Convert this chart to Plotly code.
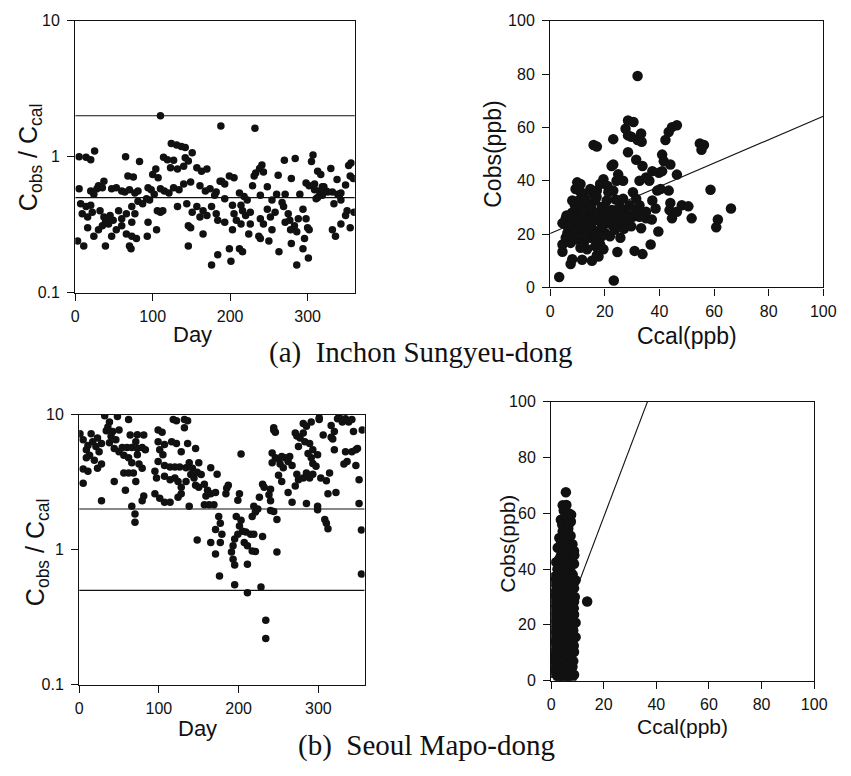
import plotly.graph_objects as go

# ---------------------------------------------------------------
# (a) Inchon Sungyeu-dong : daily ratio Cobs/Ccal
# ---------------------------------------------------------------
inchon_day = [
    110, 188, 124, 131, 137, 142, 151,
    5, 14, 20, 25, 65, 83,
    114, 119, 127, 142, 146,
    123, 132, 140, 157, 163, 170,
    104, 100, 107, 68, 75, 37, 30,
    5, 20, 24, 28, 35,
    47, 53, 60, 64, 70, 77, 81,
    94, 98, 102, 110, 115, 121, 127, 134,
    140, 149, 161, 168, 174, 182, 187,
    7, 14, 20, 9, 16, 22,
    32, 37, 41, 45, 49, 43, 39, 35,
    56, 60, 66, 73, 77, 73,
    81, 87, 96, 92,
    110, 94, 105, 93,
    16, 24, 30, 47, 53, 60, 66, 73, 79,
    3, 11, 39, 70, 72,
    132, 144, 151, 157, 161, 165, 170, 176, 182, 184, 146, 149, 165,
    146, 184, 176, 106, 113,
    232, 270, 284, 307, 305, 356, 353,
    241, 238, 233, 231, 262, 279, 313, 317, 330, 338, 349, 355, 359,
    199, 205, 189, 193, 229, 248, 298, 309, 319, 324, 332, 343,
    180, 193, 212, 218, 222, 239, 260, 271, 290, 311, 319, 334, 343, 351, 360,
    193, 203, 205, 214, 216, 220, 226, 214, 208, 203, 226, 224,
    239, 248, 252, 243, 258, 254, 237, 239,
    269, 275, 271, 277, 283, 288, 286, 278, 294, 298, 300, 302,
    296, 294, 301, 286,
    279, 263, 250, 332, 336, 343, 349, 355,
    199, 212, 216, 201,
    309, 315, 321, 326, 339, 341,
    302, 313, 243, 254, 267,
]
inchon_ratio = [
    2.0, 1.68, 1.25, 1.22, 1.19, 1.17, 1.07,
    1.0, 0.99, 0.95, 1.1, 1.0, 0.92,
    0.99, 0.95, 0.94, 0.98, 0.93,
    0.83, 0.81, 0.85, 0.83, 0.78, 0.81,
    0.81, 0.74, 0.70, 0.72, 0.71, 0.66, 0.61,
    0.58, 0.56, 0.53, 0.58, 0.59,
    0.58, 0.59, 0.56, 0.55, 0.57, 0.54, 0.56,
    0.59, 0.57, 0.53, 0.58, 0.56, 0.54, 0.59, 0.57,
    0.63, 0.65, 0.61, 0.56, 0.58, 0.55, 0.66,
    0.45, 0.43, 0.44, 0.38, 0.36, 0.39,
    0.40, 0.36, 0.35, 0.37, 0.34, 0.32, 0.33, 0.31,
    0.40, 0.35, 0.38, 0.43, 0.38, 0.33,
    0.47, 0.45, 0.48, 0.49,
    0.39, 0.33, 0.29, 0.26,
    0.30, 0.26, 0.29, 0.26, 0.29, 0.31, 0.27, 0.26, 0.25,
    0.24, 0.22, 0.22, 0.22, 0.21,
    0.43, 0.45, 0.39, 0.43, 0.36, 0.40, 0.37, 0.43, 0.38, 0.34, 0.31, 0.30, 0.27,
    0.22, 0.19, 0.16, 0.40, 0.40,
    1.62, 0.94, 0.97, 1.03, 0.92, 0.90, 0.86,
    0.87, 0.82, 0.76, 0.72, 0.73, 0.69, 0.78, 0.74, 0.82, 0.68, 0.62, 0.72, 0.69,
    0.72, 0.70, 0.66, 0.63, 0.61, 0.60, 0.64, 0.63, 0.60, 0.56, 0.55, 0.54,
    0.52, 0.49, 0.54, 0.51, 0.48, 0.52, 0.53, 0.53, 0.53, 0.49, 0.52, 0.45, 0.48, 0.40, 0.39,
    0.33, 0.44, 0.38, 0.44, 0.40, 0.37, 0.39, 0.32, 0.34, 0.29, 0.32, 0.27,
    0.35, 0.41, 0.36, 0.32, 0.39, 0.29, 0.26, 0.25,
    0.43, 0.38, 0.33, 0.34, 0.31, 0.35, 0.28, 0.29, 0.41, 0.35, 0.30, 0.29,
    0.25, 0.21, 0.18, 0.16,
    0.23, 0.20, 0.24, 0.29, 0.26, 0.32, 0.37, 0.30,
    0.21, 0.21, 0.20, 0.17,
    0.57, 0.56, 0.60, 0.55, 0.53, 0.52,
    0.61, 0.50, 0.77, 0.48, 0.46,
]

# (a) observed vs calculated concentration (ppb)
inchon_ccal = [
    32, 28.5, 30.5, 27.6, 28.5, 33.3, 32, 33.5, 29.7, 23.1, 15.9, 17.1,
    44.6, 46.4, 43.4, 42.2, 54.8, 56.3, 55.4, 28.5, 41, 31.5, 41.6, 33.8, 44, 23.1, 46.4, 39.8, 41,
    58.7, 66.2, 61.4, 60.8, 51.8, 48.2, 50.6, 44, 43.7, 44.6, 46.4, 40.4, 43.4, 39.2, 37.4, 38.6,
    39.6, 36.8, 33.8, 30.9, 33.3, 29.7, 35.1, 32.7,
    36.3, 32.7, 35.1, 30.3, 31.5, 29.1, 27.3, 25.5, 27.9, 24.3, 26.7, 24.9, 22.5, 23.1, 21.3, 19.5,
    18.3, 17.1, 14.7, 11.1, 9.9, 9.3, 12.3, 16.5, 8.1, 10.5, 13.5, 20.7, 18.9, 22.5, 24.3, 26.1,
    5.7, 4.5, 6.3, 8.1, 9.9, 11.1, 12.9, 14.7, 17.1, 19.5, 21.3, 23.1, 6.3, 8.7, 10.5, 12.3, 14.1,
    15.9, 18.3, 20.1, 21.9, 23.7,
    8.1, 9.9, 12.3, 14.7, 17.1, 18.9, 4.5, 5.7, 11.1, 16.5, 18.3, 19.5, 4.5, 8.1, 7.5, 11.7, 15.3,
    17.1, 17.7, 24.6, 25.7, 3.3, 23.3,
    7.5, 13.5, 9.3, 18.3, 31.5, 32.7, 26.7, 37.4, 30.3, 37.2, 35.1, 28.5, 21.9, 27.3, 11.1, 15.9,
    7, 9, 11, 13, 15, 17, 19, 7, 10, 14, 16, 20, 12, 6, 8, 22, 25, 27, 26, 24, 29, 13, 17, 21,
    11, 20, 9, 15,
]
inchon_cobs = [
    79.3, 62.6, 62, 59.5, 57, 57.7, 55.3, 54.6, 56.5, 55.6, 53.4, 52.8,
    60.1, 60.8, 58.3, 55.3, 54, 53.4, 51.6, 50.7, 49.8, 47.9, 47.3, 45.5, 46.1, 46.1, 42.3, 43, 43.6,
    36.6, 29.6, 25.5, 22.6, 25.9, 30.8, 30.4, 31.7, 29, 25.9, 28.4, 36.9, 36.3, 36.3, 32.6, 29.6,
    21, 16.1, 12.5, 13.7, 22.2, 22.9, 25.9, 26.5,
    40, 40, 41.2, 35.7, 33.3, 30.8, 29, 30.2, 27.8, 40, 40, 42.4, 45.5, 36.3, 35.7, 40.6,
    38.8, 36.3, 36.9, 38.8, 39.4, 36.9, 35.1, 32.6, 32.6, 32.6, 31.4, 32.6, 30.2, 29, 26.5, 25.3,
    25.9, 24.1, 22.9, 25.3, 27.1, 24.1, 25.3, 26.5, 25.3, 25.9, 24.1, 22.9, 20.4, 21.6, 21.6, 21, 22.2,
    21, 21.6, 20.4, 19.2, 21.6,
    18.6, 18, 16.7, 18.6, 18, 19.2, 16.1, 18.6, 14.9, 15.5, 16.1, 14.3, 13.4, 10.6, 8.8, 10.4, 10,
    12.1, 11.6, 13.3, 18.6, 3.9, 2.6,
    16.7, 14.3, 22.9, 28.4, 29, 30.8, 33.3, 43.6, 26.5, 25.5, 28.4, 24.1, 26.5, 25.3, 29, 35.1,
    23, 20, 23, 19.5, 23.5, 20, 23, 19, 25, 27.5, 28, 27.5, 28, 27, 28, 25, 23, 22, 28, 33, 27, 33, 34, 38,
    36, 30, 31, 30,
]
inchon_fit = (20.2, 0.44)          # intercept, slope

# ---------------------------------------------------------------
# (b) Seoul Mapo-dong : daily ratio Cobs/Ccal
# ---------------------------------------------------------------
mapo_day = [
    32, 48, 62, 38, 36, 34, 42, 50, 40, 46,
    1, 15, 5, 11, 17, 23, 28, 9, 21, 13, 19, 25, 9, 5, 11, 23, 28, 5, 28,
    38, 44, 50, 56, 62, 54, 60, 66, 73, 79, 83, 64, 73, 81, 71, 73, 66, 75, 79, 56, 62, 68, 44, 58,
    71, 81, 79,
    66, 70, 70,
    99, 104, 118, 122, 132, 136, 132, 99, 107, 116, 122, 128, 136, 146, 101, 105, 99, 107, 114, 120,
    126, 134, 138, 142, 150,
    95, 97, 107, 114, 120, 124, 128, 134, 140, 144, 148, 153, 146, 150, 157, 165, 161, 159, 165, 171, 173,
    95, 101, 107, 114, 124, 128, 138, 157, 163, 169,
    175, 177, 171, 179, 148, 165, 171, 177, 176,
    185, 187, 184, 201, 199, 203,
    197, 203, 201, 205, 199, 195, 209, 215, 219, 230, 207, 211, 217, 221, 193, 191, 193, 195, 211,
    195, 211, 228, 234, 234, 248,
    219, 221, 217, 224, 226, 230, 232, 240, 240, 244, 248, 240, 238,
    244, 246, 242, 242, 246, 250, 254, 258, 262, 252, 256, 264, 267, 250, 254, 262, 273, 275, 271,
    267, 285, 281, 285, 289, 293,
    299, 299, 308, 310, 312, 312, 322, 310, 303, 314, 293, 297, 291, 287, 275, 277, 271, 273, 281,
    285, 283, 289, 293, 299,
    281, 291, 301, 306, 316, 320, 318, 320, 316, 324, 330, 338, 342, 344, 355, 334, 336, 332, 342,
    347, 349, 347, 351, 351, 354, 354, 244,
    301, 326, 334,
]
mapo_ratio = [
    9.8, 9.7, 9.2, 8.8, 8.1, 7.6, 7.5, 7.7, 6.9, 6.5,
    7.2, 7.2, 6.5, 5.9, 6.3, 6.7, 6.1, 5.5, 5.8, 5.0, 4.6, 5.3, 4.8, 3.95, 3.8, 4.0, 4.3, 3.1, 2.3,
    6.2, 5.6, 5.3, 5.0, 4.8, 5.7, 5.7, 5.7, 5.6, 5.7, 5.5, 7.05, 7.1, 7.05, 6.3, 5.05, 4.4, 4.3, 4.0,
    3.7, 3.7, 3.7, 3.2, 2.75,
    3.2, 2.5, 2.3,
    2.1, 1.84, 1.6,
    7.7, 7.4, 9.2, 9.0, 9.2, 9.0, 8.0, 6.3, 6.0, 6.3, 6.1, 5.3, 6.1, 5.6, 5.5, 5.05, 4.5, 4.2, 4.1, 4.1,
    4.1, 4.04, 4.4, 4.0, 4.4,
    3.8, 3.4, 3.5, 3.3, 3.4, 3.2, 2.9, 3.2, 3.6, 3.4, 3.75, 3.6, 3.0, 2.9, 3.05, 4.04, 2.75, 2.5, 2.6, 2.65, 3.62,
    2.59, 2.4, 2.25, 2.25, 2.45, 2.6, 2.1, 2.15, 2.15, 2.15,
    1.76, 1.57, 1.41, 1.3, 1.18, 1.13, 0.93, 1.13, 0.64,
    2.85, 3.0, 2.6, 2.6, 2.32, 5.1,
    1.76, 1.65, 1.5, 1.37, 1.3, 1.2, 1.35, 1.3, 1.3, 1.25, 1.13, 1.07, 0.98, 0.97, 1.07, 0.96, 0.85, 0.77, 0.78,
    0.55, 0.48, 0.53, 0.30, 0.22, 0.96,
    2.1, 1.9, 1.76, 2.0, 2.45, 3.05, 2.9, 2.8, 2.3, 1.92, 1.67, 1.95, 2.55,
    8.0, 7.4, 5.2, 4.4, 4.8, 4.7, 4.9, 4.8, 4.5, 4.3, 4.04, 4.9, 4.2, 3.55, 3.2, 2.65, 3.62, 3.3, 2.96,
    2.25, 2.2, 3.4, 3.7, 3.4, 3.62,
    2.1, 1.98, 1.67, 1.57, 1.43, 2.59, 2.65, 3.24, 3.4, 3.7, 4.35, 4.15, 4.8, 5.15, 5.8, 6.7, 7.3, 6.95, 7.3,
    8.2, 6.3, 6.1, 5.5, 5.05,
    8.6, 8.8, 9.2, 7.05, 8.3, 7.5, 6.6, 5.5, 6.8, 9.3, 8.8, 8.8, 9.2, 7.5, 7.7, 5.3, 4.5, 4.3, 5.3,
    5.5, 5.6, 4.2, 3.3, 2.2, 1.4, 0.66, 7.7,
    9.5, 9.6, 9.3,
]

# (b) observed vs calculated concentration (ppb)
mapo_ccal = [
    5.6, 4.4, 6.8, 6.2, 3.7, 5, 7.5, 4.4, 6.2, 3.1, 6.8, 8.1, 5, 2.5, 8.7, 5.6, 3.7, 7.5, 1.9, 6.2,
    8.7, 4.4, 3.1, 7.5, 1.3, 5.6, 9.3, 0.6, 3.7, 6.8, 8.7, 1.9, 5, 7.5, 3.1, 0.6, 5.6, 8.7, 1.9, 4.4,
    6.8, 2.5, 5.6, 8.7, 1.3, 3.7, 6.8, 9.3, 2.5, 5, 8.1, 0.6, 3.7, 6.2, 9.3, 1.9, 5, 7.5, 0, 3.1,
    5.6, 8.7, 1.3, 4.4, 6.8, 0, 2.5, 5.6, 8.1, 1.3, 3.7, 6.2, 8.7, 2.5, 5, 13.7,
    4.8, 5.5, 4.2, 6.5, 5.2, 3.8, 6.0, 7.2, 4.6, 3.0, 5.4, 7.0, 2.4, 5.8, 4.0, 6.4, 2.6, 8.0, 4.8, 2.8,
    6.0, 4.0, 7.0, 1.2, 2.4, 4.6, 6.4, 7.8, 3.4, 5.2, 1.0, 7.6, 4.0, 6.0, 2.6, 5.0, 7.8, 1.8, 3.6, 6.2,
    4.4, 2.0, 7.4, 5.4, 3.0, 8.2, 6.4, 1.0, 4.2, 2.6, 6.6, 8.6, 1.8, 4.8, 7.4, 3.4, 0.8, 5.8, 2.2, 8.4,
    4.0, 6.8, 1.4, 3.2, 5.0, 7.4, 0.4, 2.2, 4.4, 6.6, 3.6, 7.8, 8.4, 8.6, 9.0, 8.2, 8.8, 7.4, 6.6, 5.8,
    7.6,
]
mapo_cobs = [
    67.6, 62.9, 60, 58.2, 57.7, 55.9, 57.1, 53.6, 51.8, 51.2, 50.1, 48.9, 48.3, 47.7, 46.5, 46, 44.8,
    44.2, 42.5, 42.5, 41.9, 40.7, 38.9, 38.9, 37.2, 37.2, 36, 35.4, 34.9, 34.3, 33.1, 32.5, 31.9, 30.8,
    30.2, 29.6, 29, 28.4, 27.3, 26.7, 26.1, 24.9, 24.3, 23.7, 22.6, 22, 21.4, 20.8, 19.6, 19.1, 18.5,
    17.9, 16.7, 16.1, 15.6, 14.4, 13.8, 13.2, 12.6, 11.5, 10.9, 10.3, 9.1, 8.5, 8, 7.4, 6.2, 5.6, 5,
    3.9, 3.3, 2.7, 2.1, 1.5, 0.9, 28.4,
    61, 59, 56, 54.5, 52, 49.5, 47.5, 46.5, 45.5, 43.5, 43, 41, 40, 39.5, 38, 36.5, 36, 35.5, 34.5,
    33.5, 32.8, 32, 31.5, 31, 29, 28, 28.8, 27, 27.5, 26, 25.5, 24.5, 24, 23, 22.5, 21.5, 21, 20.5,
    19.8, 19.5, 18.5, 17.5, 17, 16.5, 15.5, 14.5, 14, 14.5, 13, 12.2, 11.8, 12.5, 10.5, 10, 9.4, 9.5,
    8.2, 7.6, 7.4, 7, 6.5, 5.8, 5.4, 4.6, 4, 3.6, 2.8, 2.6, 2, 1.6, 0.8, 0.9, 18, 26, 30, 38, 45, 52,
    56, 63, 59.5,
]
mapo_fit = (8.9, 2.49)             # intercept, slope

FACTOR_BAND = [0.5, 2.0]           # factor-of-two agreement lines
DAY_MAX_A, DAY_MAX_B = 361, 358

INK = "#111111"
SANS = "Liberation Sans, Arial, Helvetica, sans-serif"
SERIF = "Liberation Serif, Times New Roman, serif"
W, H = 851, 776


def xdom(a, b):
    return [a / W, b / W]


def ydom(top, bottom):
    return [1 - bottom / H, 1 - top / H]


fig = go.Figure()

dot_small = dict(color=INK, size=7.5, line=dict(width=0))
dot_big = dict(color=INK, size=10.5, line=dict(width=0))
ref_line = dict(color=INK, width=1.1)

# panel (a) daily ratio
for lvl in FACTOR_BAND:
    fig.add_trace(go.Scatter(x=[0, DAY_MAX_A], y=[lvl, lvl], mode="lines",
                             line=ref_line, xaxis="x", yaxis="y", hoverinfo="skip"))
fig.add_trace(go.Scatter(x=inchon_day, y=inchon_ratio, mode="markers",
                         marker=dot_small, xaxis="x", yaxis="y"))

# panel (a) scatter with regression line
b0, b1 = inchon_fit
fig.add_trace(go.Scatter(x=[0, 100], y=[b0, b0 + b1 * 100], mode="lines",
                         line=ref_line, xaxis="x2", yaxis="y2", hoverinfo="skip"))
fig.add_trace(go.Scatter(x=inchon_ccal, y=inchon_cobs, mode="markers",
                         marker=dot_big, xaxis="x2", yaxis="y2"))

# panel (b) daily ratio
for lvl in FACTOR_BAND:
    fig.add_trace(go.Scatter(x=[0, DAY_MAX_B], y=[lvl, lvl], mode="lines",
                             line=ref_line, xaxis="x3", yaxis="y3", hoverinfo="skip"))
fig.add_trace(go.Scatter(x=mapo_day, y=mapo_ratio, mode="markers",
                         marker=dot_small, xaxis="x3", yaxis="y3"))

# panel (b) scatter with regression line
b0, b1 = mapo_fit
fig.add_trace(go.Scatter(x=[0, 100], y=[b0, b0 + b1 * 100], mode="lines",
                         line=ref_line, xaxis="x4", yaxis="y4", hoverinfo="skip"))
fig.add_trace(go.Scatter(x=mapo_ccal, y=mapo_cobs, mode="markers",
                         marker=dot_big, xaxis="x4", yaxis="y4"))

axis_style = dict(
    showline=True, linecolor=INK, linewidth=1.3, mirror=True,
    ticks="outside", ticklen=7, tickwidth=1.2, tickcolor=INK,
    showgrid=False, zeroline=False,
    tickfont=dict(family=SANS, size=16, color=INK),
)
y_extra = dict(ticklabelstandoff=4)
x_extra = dict(ticklabelstandoff=2)

log_ticks = dict(type="log", range=[-1, 1], tickvals=[0.1, 1, 10],
                 ticktext=["0.1", "1", "10"])
lin_ticks = dict(range=[0, 100], tickvals=[0, 20, 40, 60, 80, 100])
day_ticks = dict(tickvals=[0, 100, 200, 300])

fig.update_layout(
    width=W, height=H,
    margin=dict(l=0, r=0, t=0, b=0),
    paper_bgcolor="white", plot_bgcolor="white",
    showlegend=False,
    xaxis=dict(domain=xdom(72.7, 358), range=[0, DAY_MAX_A], anchor="y",
               **day_ticks, **axis_style, **x_extra),
    yaxis=dict(domain=ydom(13, 291), anchor="x", **log_ticks, **axis_style, **y_extra),
    xaxis2=dict(domain=xdom(557.3, 836), anchor="y2", **lin_ticks, **axis_style, **x_extra),
    yaxis2=dict(domain=ydom(13, 285.7), anchor="x2", **lin_ticks, **axis_style, **y_extra),
    xaxis3=dict(domain=xdom(76.7, 368), range=[0, DAY_MAX_B], anchor="y3",
                **day_ticks, **axis_style, **x_extra),
    yaxis3=dict(domain=ydom(415.7, 692), anchor="x3", **log_ticks, **axis_style, **y_extra),
    xaxis4=dict(domain=xdom(558.3, 826.7), anchor="y4", **lin_ticks, **axis_style, **x_extra),
    yaxis4=dict(domain=ydom(402.7, 687.7), anchor="x4", **lin_ticks, **axis_style, **y_extra),
)


def label(text, x, y, size, angle=0, family=SANS):
    fig.add_annotation(text=text, x=x / W, y=1 - y / H, xref="paper", yref="paper",
                       showarrow=False, textangle=angle, xanchor="center", yanchor="middle",
                       font=dict(family=family, size=size, color=INK))


ratio_title = "C<sub>obs</sub> / C<sub>cal</sub>"
label(ratio_title, 26, 152, 25, -90)
label("Day", 192, 334, 22)
label("Cobs(ppb)", 499, 150, 23, -90)
label("Ccal(ppb)", 697, 335, 23)
label("(a)&nbsp;&nbsp;Inchon Sungyeu-dong", 426, 352, 29, family=SERIF)

label(ratio_title, 33, 556, 25, -90)
label("Day", 197, 737, 22)
label("Cobs(ppb)", 514, 548, 21, -90)
label("Ccal(ppb)", 692, 735, 21)
label("(b)&nbsp;&nbsp;Seoul Mapo-dong", 431, 754, 29, family=SERIF)

fig.write_html("out.html")
